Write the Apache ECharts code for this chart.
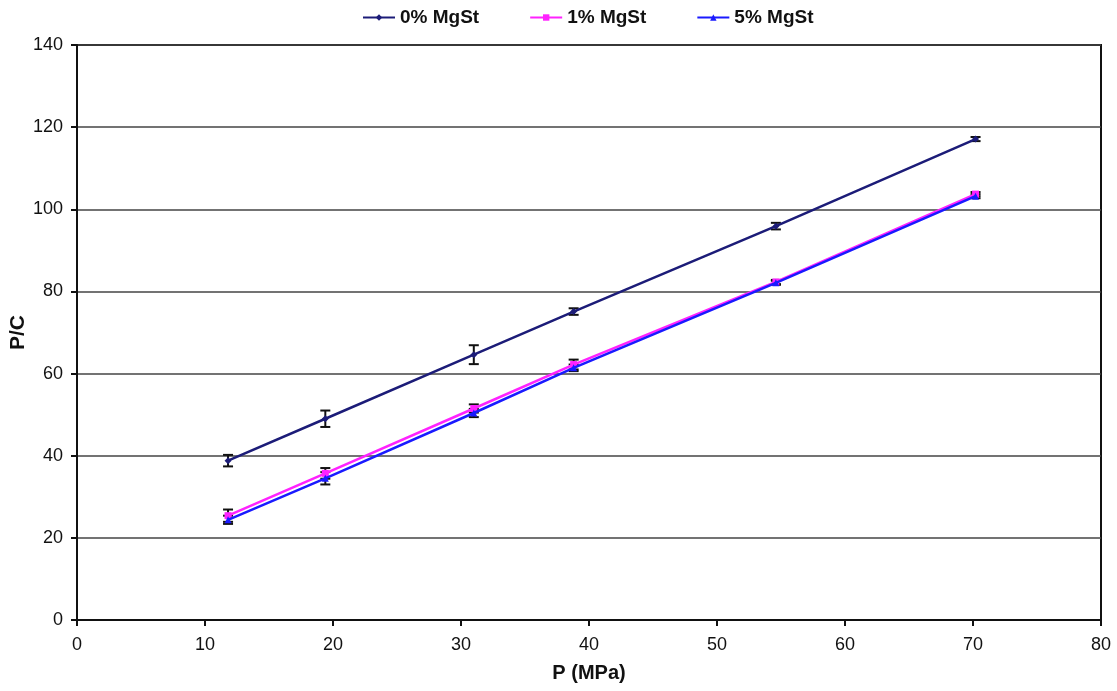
<!DOCTYPE html>
<html>
<head>
<meta charset="utf-8">
<script src="https://cdn.jsdelivr.net/npm/echarts@6/dist/echarts.min.js"></script>
<style>html,body{margin:0;padding:0;background:#fff}#c{width:1117px;height:691px}</style>
</head>
<body>
<div id="c"></div>
<script>
var pressure = [11.8, 19.4, 31.0, 38.8, 54.6, 70.2];
var seriesNames = ['0% MgSt', '1% MgSt', '5% MgSt'];
var pc0 = [38.8, 49.0, 64.6, 75.1, 95.9, 117.1];
var err0 = [1.4, 2.0, 2.3, 0.8, 0.8, 0.5];
var pc1 = [25.4, 35.7, 51.5, 62.2, 82.3, 103.7];
var err1 = [1.5, 1.3, 1.0, 1.2, 0.5, 0.5];
var pc5 = [24.4, 34.5, 50.4, 61.4, 82.1, 103.2];
var err5 = [1.0, 1.5, 1.0, 0.8, 0.5, 0.5];
var xTicks = [0, 10, 20, 30, 40, 50, 60, 70, 80];
var yTicks = [0, 20, 40, 60, 80, 100, 120, 140];
var colors = ['#1c1c78', '#ff22ff', '#1a1aff'];

function pairs(ys) { return pressure.map(function (x, i) { return [x, ys[i]]; }); }
function errData(ys, es) { return pressure.map(function (x, i) { return [x, ys[i] - es[i], ys[i] + es[i]]; }); }

function errRender(params, api) {
  var x = api.value(0);
  var lo = api.coord([x, api.value(1)]);
  var hi = api.coord([x, api.value(2)]);
  var w = 5;
  var st = { stroke: '#111', lineWidth: 2 };
  return {
    type: 'group',
    children: [
      { type: 'line', shape: { x1: lo[0], y1: lo[1], x2: hi[0], y2: hi[1] }, style: st },
      { type: 'line', shape: { x1: lo[0] - w, y1: lo[1], x2: lo[0] + w, y2: lo[1] }, style: st },
      { type: 'line', shape: { x1: hi[0] - w, y1: hi[1], x2: hi[0] + w, y2: hi[1] }, style: st }
    ]
  };
}

var lineData = [pc0, pc1, pc5];
var errs = [err0, err1, err5];
var symbols = ['diamond', 'rect', 'triangle'];
var series = [];
for (var k = 0; k < 3; k++) {
  series.push({
    type: 'custom', name: seriesNames[k] + ' err', renderItem: errRender,
    data: errData(lineData[k], errs[k]), z: 3, silent: true,
    encode: { x: 0, y: [1, 2] }
  });
}
for (var k2 = 0; k2 < 3; k2++) {
  series.push({
    type: 'line', name: seriesNames[k2], data: pairs(lineData[k2]),
    symbol: symbols[k2], symbolSize: 7, showSymbol: true,
    lineStyle: { color: colors[k2], width: 2.5 },
    itemStyle: { color: colors[k2] }, z: 4 + k2
  });
}

var chart = echarts.init(document.getElementById('c'));
chart.setOption({
  animation: false,
  backgroundColor: '#fff',
  color: colors,
  textStyle: { fontFamily: 'Liberation Sans, Arial, sans-serif' },
  legend: {
    data: seriesNames,
    top: 3, left: 357, itemGap: 50, itemWidth: 32, itemHeight: 8,
    textStyle: { fontSize: 19, fontWeight: 'bold', color: '#111' }
  },
  grid: { left: 77, right: 16, top: 45, bottom: 71, outerBoundsMode: 'none', containLabel: false,
    show: true, borderColor: '#111', borderWidth: 2 },
  xAxis: {
    type: 'value', min: 0, max: 80, interval: 10,
    name: 'P (MPa)', nameLocation: 'middle', nameGap: 43,
    nameTextStyle: { fontSize: 20, fontWeight: 'bold', color: '#111' },
    axisLine: { lineStyle: { color: '#111', width: 2 } },
    axisTick: { show: true, length: 6, lineStyle: { color: '#111', width: 2 } },
    axisLabel: { fontSize: 18, color: '#111', margin: 16,
      formatter: function (v) { return xTicks.indexOf(v) >= 0 ? String(v) : ''; } },
    splitLine: { show: false }
  },
  yAxis: {
    type: 'value', min: 0, max: 140, interval: 20,
    name: 'P/C', nameLocation: 'middle', nameGap: 48, nameRotate: 90, nameMoveOverlap: false,
    nameTextStyle: { fontSize: 21, fontWeight: 'bold', color: '#111' },
    axisLine: { show: true, lineStyle: { color: '#111', width: 2 } },
    axisTick: { show: true, length: 6, lineStyle: { color: '#111', width: 2 } },
    axisLabel: { fontSize: 18, color: '#111', margin: 14,
      formatter: function (v) { return yTicks.indexOf(v) >= 0 ? String(v) : ''; } },
    splitLine: { show: true, lineStyle: { color: '#444', width: 1.5 } }
  },
  series: series
});
</script>
</body>
</html>
